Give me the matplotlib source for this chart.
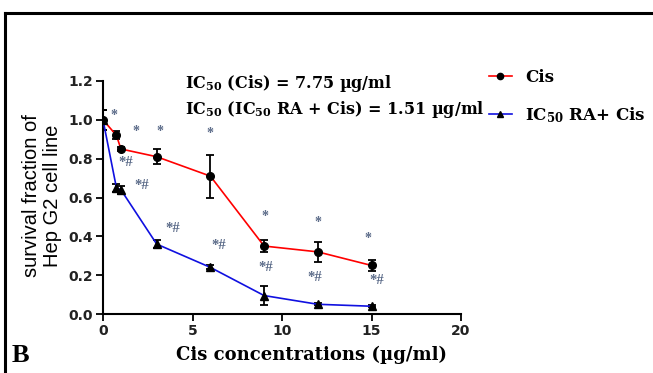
import matplotlib
matplotlib.use("Agg")
import matplotlib.pyplot as plt
from matplotlib.lines import Line2D

plt.rcParams['mathtext.fontset'] = 'custom'
plt.rcParams['mathtext.rm'] = 'DejaVu Serif:bold'
plt.rcParams['mathtext.bf'] = 'DejaVu Serif:bold'
plt.rcParams['mathtext.it'] = 'DejaVu Serif:bold'

# Data
conc = [0, 0.75, 1, 3, 6, 9, 12, 15]
cis = [1.0, 0.92, 0.85, 0.81, 0.71, 0.35, 0.32, 0.25]
cis_err = [0.05, 0.02, 0.01, 0.04, 0.11, 0.03, 0.05, 0.03]
combo = [1.0, 0.65, 0.64, 0.36, 0.24, 0.095, 0.05, 0.04]
combo_err = [0.05, 0.02, 0.02, 0.02, 0.01, 0.05, 0.005, 0.005]

star_x = [0.6, 1.85, 3.2, 6.0, 9.05, 12.0, 14.8]
star_y = [1.02, 0.94, 0.94, 0.93, 0.50, 0.47, 0.39]
hash_x = [1.25, 2.15, 3.9, 6.45, 9.1, 11.85, 15.3]
hash_y = [0.78, 0.66, 0.44, 0.355, 0.24, 0.19, 0.175]

xticks = [0, 5, 10, 15, 20]
yticks = [0.0, 0.2, 0.4, 0.6, 0.8, 1.0, 1.2]

fig = plt.figure(figsize=(6.53, 3.73), dpi=100)
ax = fig.add_axes([103/653, 1-314/373, (461-103)/653, (314-81)/373])

ax.errorbar(conc, cis, yerr=cis_err, color='red', lw=1.2, marker='o', ms=5.5,
            mfc='black', mec='black', ecolor='black', elinewidth=1.3, capsize=3, capthick=1.3, zorder=3)
ax.errorbar(conc, combo, yerr=combo_err, color='#1010e0', lw=1.2, marker='^', ms=6,
            mfc='black', mec='black', ecolor='black', elinewidth=1.3, capsize=3, capthick=1.3, zorder=3)

ann_color = '#5a6a88'
for x, y in zip(star_x, star_y):
    ax.text(x, y, '*', color=ann_color, fontsize=10, fontfamily='Liberation Serif',
            fontweight='bold', ha='center', va='center')
for x, y in zip(hash_x, hash_y):
    ax.text(x, y, '*#', color=ann_color, fontsize=10.5, fontfamily='Liberation Serif',
            fontweight='bold', ha='center', va='center')

ax.set_xlim(0, 20)
ax.set_ylim(0, 1.2)
ax.set_xticks(xticks)
ax.set_yticks(yticks)
ax.set_xticklabels([str(t) for t in xticks])
ax.set_yticklabels([f"{t:.1f}" for t in yticks])
for lab in ax.get_xticklabels() + ax.get_yticklabels():
    lab.set_fontfamily('DejaVu Sans')
    lab.set_fontweight('bold')
    lab.set_fontsize(10)
    lab.set_color('#222222')
ax.spines['top'].set_visible(False)
ax.spines['right'].set_visible(False)
for s in ['left', 'bottom']:
    ax.spines[s].set_linewidth(1.5)
ax.tick_params(direction='out', length=5, width=1.3, pad=2)

fig.text(42/653, 1-196/373, "survival fraction of\nHep G2 cell line", fontfamily='Liberation Sans',
         fontsize=14.5, rotation=90, ha='center', va='center', linespacing=1.15)
fig.text(311/653, 1-355/373, "Cis concentrations (µg/ml)", fontfamily='DejaVu Serif',
         fontweight='bold', fontsize=13, ha='center', va='center')

fig.text(185/653, 1-84/373, r"IC$_{50}$ (Cis) = 7.75 µg/ml", fontfamily='DejaVu Serif',
         fontweight='bold', fontsize=11.5, va='center', ha='left')
fig.text(185/653, 1-109/373, r"IC$_{50}$ (IC$_{50}$ RA + Cis) = 1.51 µg/ml", fontfamily='DejaVu Serif',
         fontweight='bold', fontsize=11.5, va='center', ha='left')

handles = [Line2D([], [], color='red', lw=1.2, marker='o', ms=4.5, mfc='black', mec='black'),
           Line2D([], [], color='#1010e0', lw=1.2, marker='^', ms=5, mfc='black', mec='black')]
leg = fig.legend(handles, ["Cis", r"IC$_{50}$ RA+ Cis"], loc='upper left',
                 bbox_to_anchor=(477/653, 1-57/373), frameon=False, handlelength=1.4,
                 handletextpad=0.8, labelspacing=1.15, borderpad=0.2,
                 prop={'family': 'DejaVu Serif', 'weight': 'bold', 'size': 12})

fig.text(12/653, 1-356/373, "B", fontfamily='Liberation Serif', fontweight='bold',
         fontsize=19, va='center', ha='left')

# border lines (top and left)
fig.add_artist(Line2D([5/653, 1.0], [1-13/373, 1-13/373], color='black', lw=2.2, transform=fig.transFigure))
fig.add_artist(Line2D([5/653, 5/653], [1-13/373, 0], color='black', lw=2.2, transform=fig.transFigure))

fig.savefig("out.png", dpi=100, facecolor='white')
